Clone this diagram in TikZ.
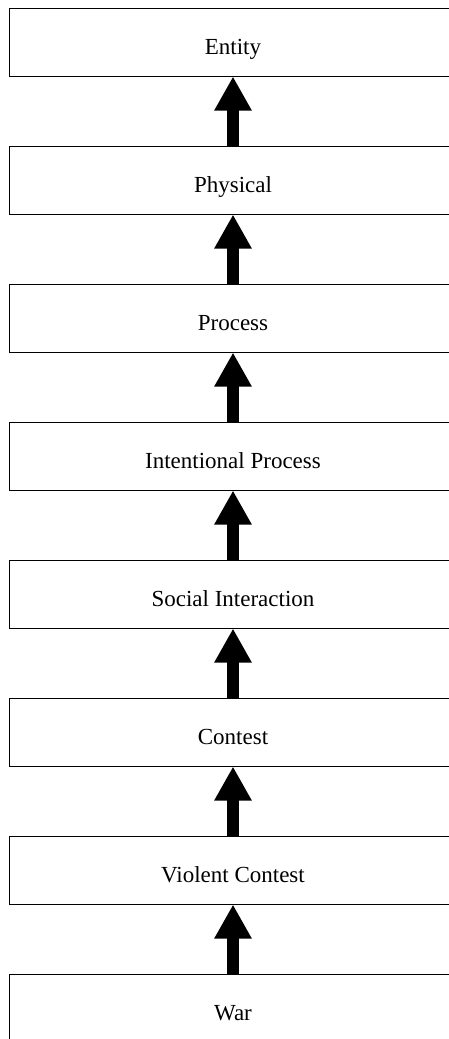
\documentclass[tikz,border=0pt]{standalone}
\usepackage{fontspec}
\setmainfont{Liberation Serif}
\usetikzlibrary{positioning,arrows.meta}

\begin{document}
\begin{tikzpicture}[
    level/.style={draw, rectangle, line width=1pt, minimum width=448pt, minimum height=68pt, text height=24pt, text depth=0pt, font=\fontsize{23pt}{26pt}\selectfont},
    isa/.style={line width=12pt, -{Triangle[width=35pt,length=34pt]}},
    node distance=69pt
]
    \useasboundingbox (0,0) rectangle (449pt,-1039pt);
    \node[level] (entity) at (233pt,-42pt) {Entity};
    \node[level, below=of entity] (physical) {Physical};
    \node[level, below=of physical] (process) {Process};
    \node[level, below=of process] (intentional) {Intentional Process};
    \node[level, below=of intentional] (social) {Social Interaction};
    \node[level, below=of social] (contest) {Contest};
    \node[level, below=of contest] (violent) {Violent Contest};
    \node[level, below=of violent] (war) {War};

    \foreach \lower/\upper in {physical/entity, process/physical, intentional/process, social/intentional, contest/social, violent/contest, war/violent}
        \draw[isa] (\lower.north) -- (\upper.south);
\end{tikzpicture}
\end{document}
